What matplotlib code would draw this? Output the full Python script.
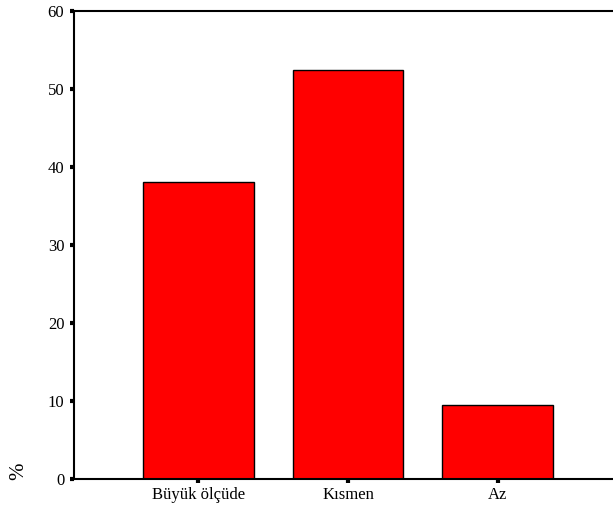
import matplotlib
matplotlib.use("Agg")
import matplotlib.pyplot as plt

categories = ["Büyük ölçüde", "Kısmen", "Az"]
values = [38.1, 52.4, 9.5]
yticks = [0, 10, 20, 30, 40, 50, 60]

plt.rcParams['font.family'] = ['Liberation Serif', 'DejaVu Serif']

fig = plt.figure(figsize=(6.13, 5.08), dpi=100)
ax = fig.add_axes([74/613, 29/508, 1 - 74/613, (479 - 11)/508])

x = list(range(len(categories)))
ax.bar(x, values, width=0.74, color='#ff0000', edgecolor='black', linewidth=1.0, zorder=2)

ax.set_xlim(-0.83, 2.77)
ax.set_ylim(0, 60)
ax.set_yticks(yticks)
ax.set_xticks(x)
ax.set_xticklabels(categories, fontsize=12)
ax.set_yticklabels([str(t) for t in yticks], fontsize=12)

for s in ['left', 'top', 'bottom']:
    ax.spines[s].set_linewidth(1.5)
    ax.spines[s].set_color('black')
ax.spines['right'].set_visible(False)

ax.tick_params(axis='y', direction='out', length=3, width=3, color='black', pad=4)
ax.tick_params(axis='x', direction='out', length=3, width=3, color='black', pad=3)

fig.text(19/613, 1 - 471/508, '%', rotation=90, ha='center', va='center', fontsize=15)

fig.savefig('out.png', dpi=100)
